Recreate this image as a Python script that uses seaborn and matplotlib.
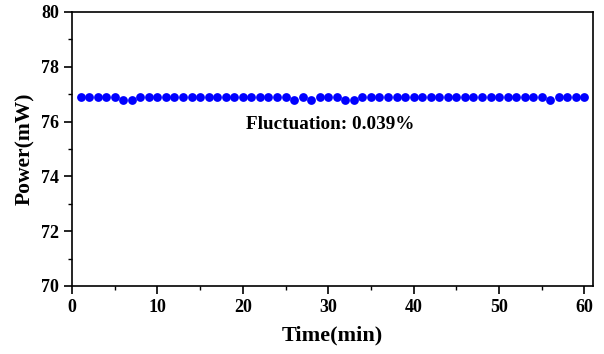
import matplotlib
matplotlib.use("Agg")
import matplotlib.pyplot as plt
import seaborn as sns
import pandas as pd
from matplotlib.ticker import MultipleLocator

time_min = list(range(1, 61))
low_points = [6, 7, 26, 28, 32, 33, 56]
power_mw = [76.8 if t in low_points else 76.9 for t in time_min]
annotation = "Fluctuation: 0.039%"

df = pd.DataFrame({"Time": time_min, "Power": power_mw})

sns.set_theme(style="ticks")
plt.rcParams['font.family'] = ['Liberation Serif', 'DejaVu Serif']
plt.rcParams['font.weight'] = 'bold'
plt.rcParams['text.color'] = 'black'
plt.rcParams['axes.labelcolor'] = 'black'
plt.rcParams['xtick.color'] = 'black'
plt.rcParams['ytick.color'] = 'black'

fig = plt.figure(figsize=(6.04, 3.54), dpi=100)
ax = fig.add_axes([72/604, 1-286/354, (593-72)/604, (286-12)/354])

sns.scatterplot(data=df, x="Time", y="Power", ax=ax, color="#0000ff",
                edgecolor="#0000ff", s=40, linewidth=0, legend=False)

ax.set_xlim(0, 61)
ax.set_ylim(70, 80)
ax.xaxis.set_major_locator(MultipleLocator(10))
ax.xaxis.set_minor_locator(MultipleLocator(5))
ax.yaxis.set_major_locator(MultipleLocator(2))
ax.yaxis.set_minor_locator(MultipleLocator(1))
ax.tick_params(which='major', direction='out', length=5.5, width=1.2, labelsize=13, pad=4,
               top=False, right=False, colors='black')
ax.tick_params(which='minor', direction='out', length=3, width=1.0, top=False, right=False,
               colors='black')
for lab in ax.get_xticklabels() + ax.get_yticklabels():
    lab.set_fontweight('bold')
for sp in ax.spines.values():
    sp.set_linewidth(1.2)
    sp.set_color('black')

ax.set_xlabel("Time(min)", fontsize=16, fontweight='bold', labelpad=7, color='black')
ax.set_ylabel("Power(mW)", fontsize=15.5, fontweight='bold', labelpad=4, color='black')
ax.text(30.2, 75.88, annotation, fontsize=13.8, fontweight='bold', ha='center', va='center',
        color='black')

fig.savefig("out.png", dpi=100)
